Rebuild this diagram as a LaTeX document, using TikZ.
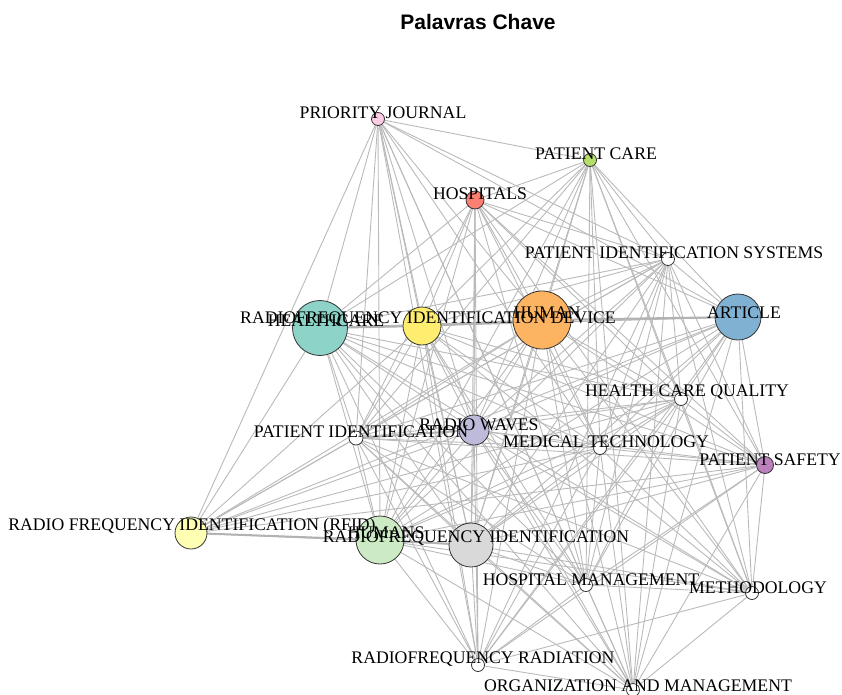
\documentclass[tikz,border=0pt]{standalone}
\usepackage{fontspec}
\setmainfont{Liberation Serif}
\newfontfamily\titlefont{Liberation Sans}
\usetikzlibrary{backgrounds}
\definecolor{cTeal}{HTML}{8DD3C7}
\definecolor{cLYel}{HTML}{FFFFB3}
\definecolor{cLav}{HTML}{BEBADA}
\definecolor{cRed}{HTML}{FB8072}
\definecolor{cBlue}{HTML}{80B1D3}
\definecolor{cOrange}{HTML}{FDB462}
\definecolor{cGreen}{HTML}{B3DE69}
\definecolor{cPink}{HTML}{FCCDE5}
\definecolor{cGrey}{HTML}{D9D9D9}
\definecolor{cPurple}{HTML}{BC80BD}
\definecolor{cLGreen}{HTML}{CCEBC5}
\definecolor{cYel}{HTML}{FFED6F}
\tikzset{
  vert/.style={circle,draw=black!80,line width=0.8pt,inner sep=0pt,minimum size=#1,fill=white},
  lab/.style={font=\fontsize{17.7}{20}\selectfont,text=black,inner sep=0pt},
  edge/.style={draw=black!27,line width=0.9pt},
  thick edge/.style={draw=black!30,line width=2pt}
}
\begin{document}
\begin{tikzpicture}[x=1pt,y=-1pt]
\useasboundingbox (0,0) rectangle (842,694);
\node[font=\titlefont\bfseries\fontsize{21}{24}\selectfont] (title) at (478,22) {Palavras Chave};
% vertices
\node[vert=13pt,fill=cPink] (PJ) at (378,119) {};
\node[vert=13pt,fill=cGreen] (PC) at (590,160) {};
\node[vert=18pt,fill=cRed] (HO) at (475,200) {};
\node[vert=13pt] (PIS) at (668,259) {};
\node[vert=55pt,fill=cTeal] (HC) at (320,328) {};
\node[vert=38pt,fill=cYel] (RFD) at (422,326) {};
\node[vert=58pt,fill=cOrange] (HU) at (542,320) {};
\node[vert=46pt,fill=cBlue] (AR) at (738,317) {};
\node[vert=13pt] (HCQ) at (681,399) {};
\node[vert=30pt,fill=cLav] (RW) at (474,430) {};
\node[vert=14pt] (PI) at (356,438) {};
\node[vert=13pt] (MT) at (600,448) {};
\node[vert=17pt,fill=cPurple] (PS) at (765,465) {};
\node[vert=32pt,fill=cLYel] (RFID) at (191,533) {};
\node[vert=48pt,fill=cLGreen] (HS) at (380,540) {};
\node[vert=44pt,fill=cGrey] (RFI) at (471,545) {};
\node[vert=13pt] (HM) at (586,585) {};
\node[vert=13pt] (ME) at (752,593) {};
\node[vert=13pt] (RR) at (478,665) {};
\node[vert=13pt] (OM) at (633,690) {};
% edges
\begin{pgfonlayer}{background}
\foreach \a/\l in {
  PJ/{PC,HC,RFD,HU,PI,RW,HS,RFI,RR,HM,MT,OM,PIS,AR,RFID},
  PC/{HO,HC,RFD,HU,PIS,AR,HCQ,RW,PI,MT,PS,HS,RFI,HM,ME,OM},
  HO/{HC,RFD,HU,PIS,AR,HCQ,RW,PI,MT,PS,HS,RFI,HM,ME,RR},
  PIS/{HC,RFD,HU,AR,HCQ,RW,PI,MT,PS,HS,RFI,HM,ME,RR,OM,RFID},
  HC/{RFD,HU,AR,HCQ,RW,PI,MT,PS,HS,RFI,HM,ME,RR,OM,RFID},
  RFD/{HU,AR,HCQ,RW,PI,MT,PS,HS,RFI,HM,ME,RR,OM,RFID},
  HU/{AR,HCQ,RW,PI,MT,PS,HS,RFI,HM,ME,RR,OM,RFID},
  AR/{HCQ,RW,PI,MT,PS,HS,RFI,HM,ME,RR,OM,RFID},
  HCQ/{RW,PI,MT,PS,HS,RFI,HM,ME,RR,OM,RFID},
  RW/{PI,MT,PS,HS,RFI,HM,ME,RR,OM,RFID},
  PI/{MT,PS,HS,RFI,HM,ME,RR,OM,RFID},
  MT/{PS,HS,RFI,HM,ME,RR,OM,RFID},
  PS/{HS,RFI,HM,ME,RR,OM,RFID},
  HS/{RFI,HM,ME,RR,OM,RFID},
  RFI/{HM,ME,RR,OM,RFID},
  HM/{ME,RR,OM},
  ME/{RR,OM},
  RR/{OM}}
  {\foreach \b in \l {\draw[edge] (\a) -- (\b);}}
\draw[thick edge] (HC) -- (RFD);
\draw[thick edge] (RFD) -- (HU);
\draw[thick edge] (HU) -- (AR);
\draw[thick edge] (PI) -- (RW);
\draw[thick edge] (HS) -- (RFI);
\draw[thick edge] (RFID) -- (HS);
\end{pgfonlayer}
% labels
\node[lab] (PJl) at (383,113) {PRIORITY JOURNAL};
\node[lab] (PCl) at (596,154) {PATIENT CARE};
\node[lab] (HOl) at (480,194) {HOSPITALS};
\node[lab] (PISl) at (674,253) {PATIENT IDENTIFICATION SYSTEMS};
\node[lab] (HCl) at (326,321) {HEALTHCARE};
\node[lab] (RFDl) at (428,319) {RADIOFREQUENCY IDENTIFICATION DEVICE};
\node[lab] (HUl) at (547,313) {HUMAN};
\node[lab] (ARl) at (744,313) {ARTICLE};
\node[lab] (HCQl) at (687,392) {HEALTH CARE QUALITY};
\node[lab] (RWl) at (479,425) {RADIO WAVES};
\node[lab] (PIl) at (361,432) {PATIENT IDENTIFICATION};
\node[lab] (MTl) at (606,442) {MEDICAL TECHNOLOGY};
\node[lab] (PSl) at (770,460) {PATIENT SAFETY};
\node[lab] (RFIDl) at (192,526) {RADIO FREQUENCY IDENTIFICATION (RFID)};
\node[lab] (HSl) at (386,533) {HUMANS};
\node[lab] (RFIl) at (476,538) {RADIOFREQUENCY IDENTIFICATION};
\node[lab] (HMl) at (591,580) {HOSPITAL MANAGEMENT};
\node[lab] (MEl) at (758,588) {METHODOLOGY};
\node[lab] (RRl) at (483,659) {RADIOFREQUENCY RADIATION};
\node[lab] (OMl) at (638,686) {ORGANIZATION AND MANAGEMENT};
\end{tikzpicture}
\end{document}
